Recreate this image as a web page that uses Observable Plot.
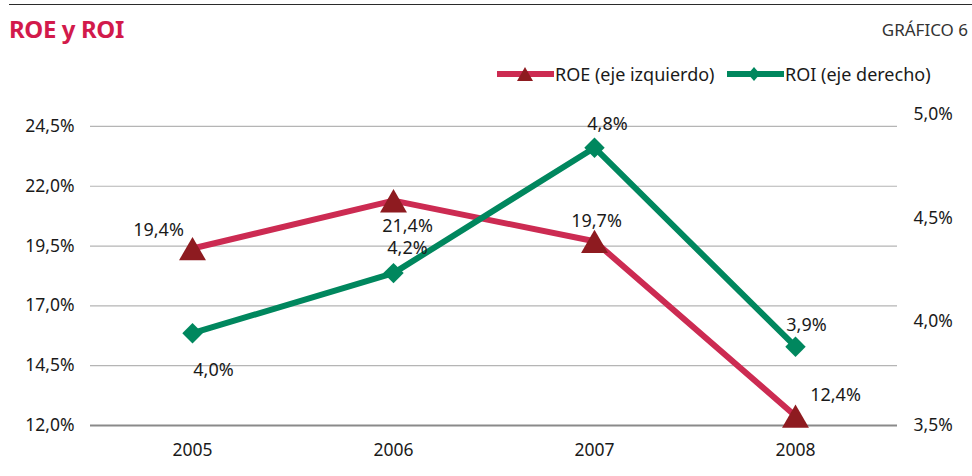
<!DOCTYPE html>
<html>
<head>
<meta charset="utf-8">
<script src="https://cdn.jsdelivr.net/npm/d3@7"></script>
<script src="https://cdn.jsdelivr.net/npm/@observablehq/plot@0.6"></script>
<style>
  html, body { margin: 0; padding: 0; background: #fff; }
  body { width: 972px; height: 476px; overflow: hidden; font-family: "Noto Sans", sans-serif; color: #1a1a1a; }
  #header { position: relative; height: 100px; }
  #rule { position: absolute; left: 9px; right: 0; top: 4px; height: 0; border-top: 1.5px solid #2b2b2b; }
  #title { position: absolute; left: 9px; top: 12px; font-size: 24px; font-weight: bold; color: #d21a4b; letter-spacing: -0.4px; }
  #num { position: absolute; right: 4px; top: 18px; font-size: 17px; color: #333; }
  .leg { position: absolute; top: 62px; display: flex; align-items: center; font-size: 18px; color: #1a1a1a; }
  .leg svg { display: block; margin-right: 1px; }
</style>
</head>
<body>
<div id="header">
  <div id="rule"></div>
  <div id="title">ROE y ROI</div>
  <div id="num">GRÁFICO 6</div>
  <div class="leg" style="left:497px">
    <svg width="57" height="22"><line x1="0" x2="57" y1="11" y2="11" stroke="#cc2b52" stroke-width="6"/><polygon points="28,4 36,18 20,18" fill="#8e1b20"/></svg>
    <span>ROE (eje izquierdo)</span>
  </div>
  <div class="leg" style="left:727px">
    <svg width="57" height="22"><line x1="0" x2="57" y1="11" y2="11" stroke="#00875e" stroke-width="6"/><polygon points="27,4 33,11 27,18 21,11" fill="#00875e"/></svg>
    <span>ROI (eje derecho)</span>
  </div>
</div>
<div id="chart"></div>
<script>
const years = ["2005", "2006", "2007", "2008"];
const roe = [19.4, 21.4, 19.7, 12.4];
const roi = [3.945, 4.235, 4.84, 3.88];
const roeLabels = ["19,4%", "21,4%", "19,7%", "12,4%"];
const roiLabels = ["4,0%", "4,2%", "4,8%", "3,9%"];
const leftTicks = [12, 14.5, 17, 19.5, 22, 24.5];
const rightTicks = [3.5, 4.0, 4.5, 5.0];
const leftDomain = [12, 25];
const rightDomain = [3.5, 5.0];

// label offsets (style only)
const roeOff = [[-34, -18], [14, 26], [2, -20], [40, -21]];
const roiOff = [[21, 37], [14, -25], [13, -23], [11, -21]];

const toLeft = v => leftDomain[0] + (v - rightDomain[0]) * (leftDomain[1] - leftDomain[0]) / (rightDomain[1] - rightDomain[0]);
const fromLeft = v => rightDomain[0] + (v - leftDomain[0]) * (rightDomain[1] - rightDomain[0]) / (leftDomain[1] - leftDomain[0]);
const fmt = v => (Math.round(v * 10) / 10).toFixed(1).replace(".", ",") + "%";

const roeData = years.map((year, i) => ({year, value: roe[i], label: roeLabels[i]}));
const roiData = years.map((year, i) => ({year, value: toLeft(roi[i]), label: roiLabels[i]}));

const labelMarks = [
  ...roeData.map((d, i) => Plot.text([d], {x: "year", y: "value", text: "label", dx: roeOff[i][0], dy: roeOff[i][1], fontSize: 18, fill: "#1a1a1a"})),
  ...roiData.map((d, i) => Plot.text([d], {x: "year", y: "value", text: "label", dx: roiOff[i][0], dy: roiOff[i][1], fontSize: 18, fill: "#1a1a1a"}))
];

const chart = Plot.plot({
  width: 972,
  height: 376,
  marginTop: 14,
  marginBottom: 51,
  marginLeft: 90,
  marginRight: 75,
  style: {fontFamily: "Noto Sans, sans-serif", fontSize: "17.5px", color: "#1a1a1a", background: "#fff", overflow: "visible"},
  x: {type: "point", domain: years, padding: 0.5, label: null},
  y: {domain: leftDomain, label: null},
  marks: [
    Plot.gridY(leftTicks.slice(1), {stroke: "#b5b5b5", strokeOpacity: 1, strokeWidth: 1.2}),
    Plot.ruleY([12], {stroke: "#8a8a8a", strokeWidth: 2}),
    Plot.axisY(leftTicks, {anchor: "left", tickSize: 0, tickPadding: 16, tickFormat: fmt, fontSize: 17.5, label: null}),
    Plot.axisY(rightTicks.map(toLeft), {anchor: "right", tickSize: 0, tickPadding: 16, tickFormat: d => fmt(fromLeft(d)), fontSize: 17.5, label: null}),
    Plot.axisX({tickSize: 0, tickPadding: 18, fontSize: 17.5, label: null}),
    Plot.line(roeData, {x: "year", y: "value", stroke: "#cc2b52", strokeWidth: 6}),
    Plot.line(roiData, {x: "year", y: "value", stroke: "#00875e", strokeWidth: 6}),
    Plot.dot(roeData, {x: "year", y: "value", symbol: "triangle", r: 10, fill: "#8e1b20", stroke: "none", dy: 4}),
    Plot.dot(roiData, {x: "year", y: "value", symbol: "diamond2", r: 9.2, fill: "#00875e", stroke: "none"}),
    ...labelMarks
  ]
});
document.getElementById("chart").appendChild(chart);
</script>
</body>
</html>
